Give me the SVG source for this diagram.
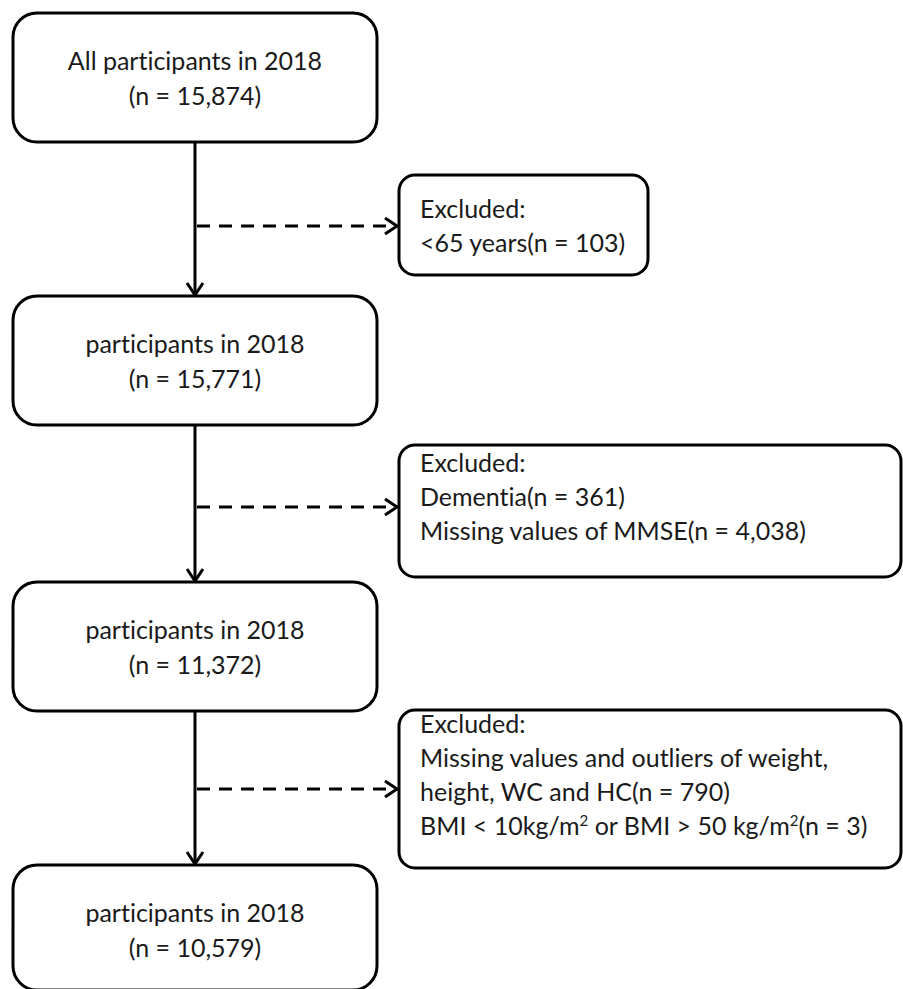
<svg xmlns="http://www.w3.org/2000/svg" width="903" height="989" viewBox="0 0 903 989">
<style>
.box{fill:#fff;stroke:#000;stroke-width:3}
.t{font-family:Lato,"Liberation Sans",sans-serif;font-size:25px;fill:#1a1a1a;font-variant-ligatures:none}
.c{text-anchor:middle}
.ln{stroke:#000;stroke-width:3;fill:none}
.dash{stroke-dasharray:13 9}
</style>
<defs>
<marker id="ah" viewBox="0 0 20 20" refX="18" refY="10" markerWidth="20" markerHeight="20" markerUnits="userSpaceOnUse" orient="auto">
<path d="M6,2 L18,10 L6,18" fill="none" stroke="#000" stroke-width="3"/>
</marker>
</defs>
<rect width="903" height="989" fill="#fff"/>
<g id="connectors">
<line class="ln" x1="195" y1="142" x2="195" y2="295" marker-end="url(#ah)"/>
<line class="ln dash" x1="197" y1="226" x2="397" y2="226" marker-end="url(#ah)"/>
<line class="ln" x1="195" y1="425" x2="195" y2="581" marker-end="url(#ah)"/>
<line class="ln dash" x1="197" y1="507" x2="397" y2="507" marker-end="url(#ah)"/>
<line class="ln" x1="195" y1="711" x2="195" y2="864" marker-end="url(#ah)"/>
<line class="ln dash" x1="197" y1="789" x2="397" y2="789" marker-end="url(#ah)"/>
</g>
<g id="n1">
<rect class="box" x="13" y="13" width="364" height="129" rx="24"/>
<text class="t c" x="195" y="70">All participants in 2018</text>
<text class="t c" x="195" y="105">(n = 15,874)</text>
</g>
<g id="n2">
<rect class="box" x="13" y="296" width="364" height="129" rx="24"/>
<text class="t c" x="195" y="353">participants in 2018</text>
<text class="t c" x="195" y="388">(n = 15,771)</text>
</g>
<g id="n3">
<rect class="box" x="13" y="582" width="364" height="129" rx="24"/>
<text class="t c" x="195" y="639">participants in 2018</text>
<text class="t c" x="195" y="674">(n = 11,372)</text>
</g>
<g id="n4">
<rect class="box" x="13" y="865" width="364" height="125" rx="24"/>
<text class="t c" x="195" y="922">participants in 2018</text>
<text class="t c" x="195" y="957">(n = 10,579)</text>
</g>
<g id="e1">
<rect class="box" x="399" y="175" width="249" height="100" rx="16"/>
<text class="t" x="420" y="218">Excluded:</text>
<text class="t" x="420" y="252">&lt;65 years(n = 103)</text>
</g>
<g id="e2">
<rect class="box" x="399" y="445" width="502" height="132" rx="16"/>
<text class="t" x="420" y="472">Excluded:</text>
<text class="t" x="420" y="506">Dementia(n = 361)</text>
<text class="t" x="420" y="540">Missing values of MMSE(n = 4,038)</text>
</g>
<g id="e3">
<rect class="box" x="399" y="710" width="502" height="158" rx="16"/>
<text class="t" x="420" y="733">Excluded:</text>
<text class="t" x="420" y="767">Missing values and outliers of weight,</text>
<text class="t" x="420" y="801">height, WC and HC(n = 790)</text>
<text class="t" x="420" y="835">BMI &lt; 10kg/m<tspan font-size="15" dy="-9">2</tspan><tspan dy="9"> or BMI &gt; 50 kg/m</tspan><tspan font-size="15" dy="-9">2</tspan><tspan dy="9">(n = 3)</tspan></text>
</g>
</svg>
